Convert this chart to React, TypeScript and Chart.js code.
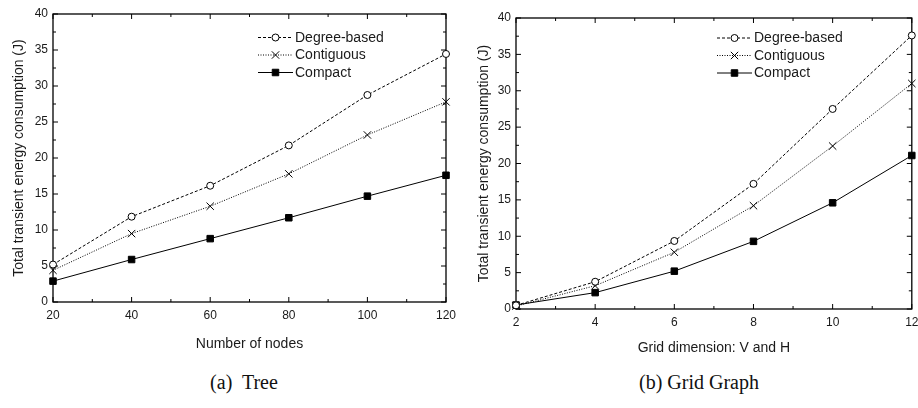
import React, { useEffect, useRef } from 'react';
import { Chart, registerables } from 'chart.js';

Chart.register(...registerables);

// ---------- data ----------
const treeNodes = [20, 40, 60, 80, 100, 120];
const treeDegree = [5.2, 11.85, 16.15, 21.75, 28.75, 34.45];
const treeContiguous = [4.4, 9.5, 13.3, 17.8, 23.2, 27.8];
const treeCompact = [2.9, 5.9, 8.8, 11.7, 14.7, 17.6];

const gridDims = [2, 4, 6, 8, 10, 12];
const gridDegree = [0.5, 3.75, 9.35, 17.2, 27.5, 37.6];
const gridContiguous = [0.4, 3.2, 7.8, 14.2, 22.4, 31.0];
const gridCompact = [0.55, 2.25, 5.2, 9.3, 14.6, 21.1];

const seriesNames = ['Degree-based', 'Contiguous', 'Compact'];
const yTitle = 'Total transient energy consumption (J)';
const xTitleTree = 'Number of nodes';
const xTitleGrid = 'Grid dimension: V and H';
const captionTree = '(a)  Tree';
const captionGrid = '(b) Grid Graph';

// ---------- styles ----------
const SANS = '"Liberation Sans", Arial, Helvetica, sans-serif';
const TEXT = '#1a1a1a';
const seriesStyles = [
  { dash: [3, 2], pointStyle: 'circle', radius: 3.5, bg: '#ffffff' },
  { dash: [1, 1.5], pointStyle: 'crossRot', radius: 5.2, bg: '#000000' },
  { dash: [], pointStyle: 'rect', radius: 4.6, bg: '#000000' },
];

function drawMarker(ctx: CanvasRenderingContext2D, style: string, x: number, y: number, r: number, bg: string) {
  ctx.save();
  ctx.setLineDash([]);
  ctx.lineWidth = 1;
  ctx.strokeStyle = '#000';
  ctx.fillStyle = bg;
  ctx.beginPath();
  if (style === 'circle') {
    ctx.arc(x, y, r, 0, Math.PI * 2);
    ctx.fill();
    ctx.stroke();
  } else if (style === 'crossRot') {
    const d = r * Math.SQRT1_2;
    ctx.moveTo(x - d, y - d);
    ctx.lineTo(x + d, y + d);
    ctx.moveTo(x - d, y + d);
    ctx.lineTo(x + d, y - d);
    ctx.stroke();
  } else {
    const s = r * Math.SQRT1_2;
    ctx.rect(x - s, y - s, 2 * s, 2 * s);
    ctx.fill();
    ctx.stroke();
  }
  ctx.restore();
}

const framePlugin = {
  id: 'frame',
  beforeDatasetsDraw(chart: any) {
    const { ctx, chartArea } = chart;
    const { left, right, top, bottom } = chartArea;
    const xs = chart.scales.x;
    const ys = chart.scales.y;
    ctx.save();
    ctx.strokeStyle = '#000';
    ctx.lineWidth = 1.3;
    ctx.setLineDash([]);
    ctx.strokeRect(left, top, right - left, bottom - top);
    ctx.lineWidth = 1;
    ctx.beginPath();
    const major = 5;
    const minor = 3;
    const xt = xs.ticks.map((t: any) => t.value);
    for (let i = 0; i < xt.length; i++) {
      const px = xs.getPixelForValue(xt[i]);
      ctx.moveTo(px, bottom); ctx.lineTo(px, bottom - major);
      ctx.moveTo(px, top); ctx.lineTo(px, top + major);
      if (i < xt.length - 1) {
        const pm = xs.getPixelForValue((xt[i] + xt[i + 1]) / 2);
        ctx.moveTo(pm, bottom); ctx.lineTo(pm, bottom - minor);
        ctx.moveTo(pm, top); ctx.lineTo(pm, top + minor);
      }
    }
    const yt = ys.ticks.map((t: any) => t.value);
    for (let i = 0; i < yt.length; i++) {
      const py = ys.getPixelForValue(yt[i]);
      ctx.moveTo(left, py); ctx.lineTo(left + major, py);
      ctx.moveTo(right, py); ctx.lineTo(right - major, py);
      if (i < yt.length - 1) {
        const pm = ys.getPixelForValue((yt[i] + yt[i + 1]) / 2);
        ctx.moveTo(left, pm); ctx.lineTo(left + minor, pm);
        ctx.moveTo(right, pm); ctx.lineTo(right - minor, pm);
      }
    }
    ctx.stroke();
    ctx.restore();
  },
  afterDraw(chart: any, _args: any, opts: any) {
    const { ctx, chartArea } = chart;
    const x0 = chartArea.left + opts.legendX;
    const y0 = chartArea.top + opts.legendY;
    const rowH = 17.5;
    const sampleW = 35;
    ctx.save();
    chart.data.datasets.forEach((ds: any, i: number) => {
      const st = seriesStyles[i];
      const y = y0 + i * rowH;
      ctx.strokeStyle = '#000';
      ctx.lineWidth = 1;
      ctx.setLineDash(st.dash);
      ctx.beginPath();
      ctx.moveTo(x0, y);
      ctx.lineTo(x0 + sampleW, y);
      ctx.stroke();
      drawMarker(ctx, st.pointStyle, x0 + sampleW / 2, y, st.radius, st.bg);
      ctx.fillStyle = TEXT;
      ctx.font = `14px ${SANS}`;
      ctx.textBaseline = 'middle';
      ctx.textAlign = 'left';
      ctx.fillText(ds.label, x0 + sampleW + 2, y + 0.5);
    });
    ctx.restore();
  },
};

function makeConfig(p: any) {
  return {
    type: 'line',
    data: {
      datasets: p.series.map((vals: number[], i: number) => ({
        label: seriesNames[i],
        data: p.xs.map((x: number, j: number) => ({ x, y: vals[j] })),
        borderColor: '#000',
        borderWidth: 1,
        borderDash: seriesStyles[i].dash,
        pointStyle: seriesStyles[i].pointStyle,
        pointRadius: seriesStyles[i].radius,
        pointBackgroundColor: seriesStyles[i].bg,
        pointBorderColor: '#000',
        pointBorderWidth: 1,
        tension: 0,
        clip: false,
      })),
    },
    options: {
      responsive: false,
      animation: false,
      events: [],
      layout: { padding: p.padding },
      plugins: {
        legend: { display: false },
        tooltip: { enabled: false },
        frame: { legendX: p.legendX, legendY: p.legendY },
      },
      scales: {
        x: {
          type: 'linear',
          min: p.xMin,
          max: p.xMax,
          ticks: { stepSize: p.xStep, font: { family: SANS, size: 12 }, color: TEXT, padding: 6, maxRotation: 0 },
          grid: { display: false, drawTicks: false },
          border: { display: false },
          title: {
            display: true,
            text: p.xTitle,
            font: { family: SANS, size: 14 },
            color: TEXT,
            padding: { top: 0, bottom: p.xTitlePad },
          },
          afterFit: (s: any) => {
            s.height = p.xHeight;
            s.paddingLeft = 0;
            s.paddingRight = 0;
          },
        },
        y: {
          type: 'linear',
          min: 0,
          max: 40,
          ticks: { stepSize: 5, font: { family: SANS, size: 12 }, color: TEXT, padding: p.yTickPad },
          grid: { display: false, drawTicks: false },
          border: { display: false },
          title: {
            display: true,
            text: yTitle,
            font: { family: SANS, size: 14 },
            color: TEXT,
            padding: { top: p.yTitlePad, bottom: 0 },
          },
          afterFit: (s: any) => {
            s.width = p.yWidth;
          },
        },
      },
    },
    plugins: [framePlugin],
  };
}

function LineChart({ config, left, width, height }: any) {
  const ref = useRef<HTMLCanvasElement | null>(null);
  useEffect(() => {
    if (!ref.current) return;
    const chart = new Chart(ref.current, config);
    return () => chart.destroy();
  }, [config]);
  return (
    <canvas
      ref={ref}
      width={width}
      height={height}
      style={{ position: 'absolute', left, top: 0, width, height }}
    />
  );
}

const treeConfig = makeConfig({
  xs: treeNodes,
  series: [treeDegree, treeContiguous, treeCompact],
  xMin: 20, xMax: 120, xStep: 20,
  xTitle: xTitleTree,
  padding: { top: 14, right: 13, bottom: 0, left: 0 },
  yWidth: 53,
  xHeight: 58,
  xTitlePad: 7,
  yTitlePad: 11,
  yTickPad: 5,
  legendX: 205,
  legendY: 23.5,
});

const gridConfig = makeConfig({
  xs: gridDims,
  series: [gridDegree, gridContiguous, gridCompact],
  xMin: 2, xMax: 12, xStep: 2,
  xTitle: xTitleGrid,
  padding: { top: 18, right: 5, bottom: 0, left: 0 },
  yWidth: 57,
  xHeight: 51,
  xTitlePad: 3,
  yTitlePad: 17,
  yTickPad: 5,
  legendX: 201,
  legendY: 20,
});

const captionStyle: React.CSSProperties = {
  position: 'absolute',
  top: 370,
  width: 300,
  textAlign: 'center',
  fontFamily: '"Liberation Serif", "Times New Roman", serif',
  fontSize: 20,
  lineHeight: '24px',
  color: '#111',
  whiteSpace: 'pre',
};

export default function App() {
  return (
    <div style={{ position: 'absolute', left: 0, top: 0, width: 918, height: 408, overflow: 'hidden', background: '#fff' }}>
      <LineChart config={treeConfig} left={0} width={459} height={360} />
      <LineChart config={gridConfig} left={459} width={459} height={360} />
      <div style={{ ...captionStyle, left: 244 - 150 }}>{captionTree}</div>
      <div style={{ ...captionStyle, left: 699 - 150 }}>{captionGrid}</div>
    </div>
  );
}
